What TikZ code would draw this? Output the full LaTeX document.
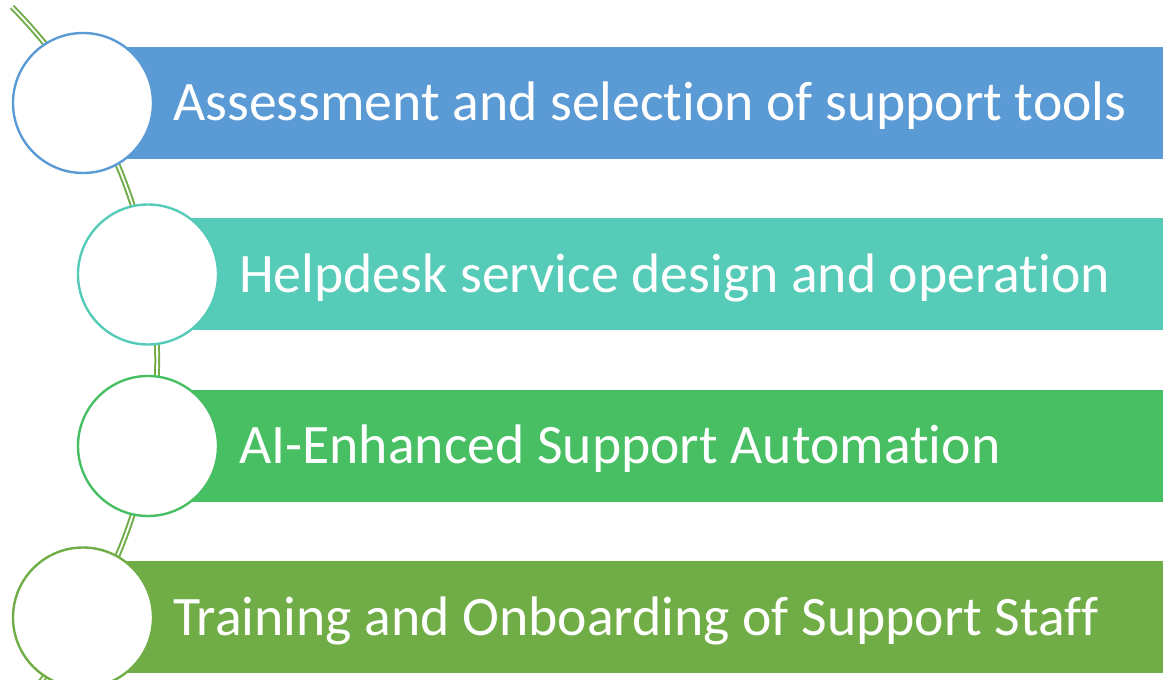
\documentclass[tikz,border=0pt]{standalone}
\usepackage{fontspec}
\setmainfont{Carlito}[Ligatures={NoCommon}]
\definecolor{cblue}{HTML}{5B9BD5}
\definecolor{cteal}{HTML}{55CBB8}
\definecolor{cgreen}{HTML}{48BF63}
\definecolor{colive}{HTML}{70AD47}
\tikzset{
  ring/.style={circle, draw=#1, line width=2.4pt, fill=white, minimum size=140pt, inner sep=0pt},
  label/.style={text=white, font=\fontsize{55.7}{62}\selectfont, anchor=base west, inner sep=0pt},
  spine/.style={draw=colive, line width=2pt, double=white, double distance=1.8pt}
}
\begin{document}
\begin{tikzpicture}[x=1pt,y=1pt]
\useasboundingbox (0,0) rectangle (1163,680);
% bars
\fill[cblue]  (83,521) rectangle (1163,633);
\fill[cteal]  (148,349.5) rectangle (1163,461.5);
\fill[cgreen] (148,178) rectangle (1163,290);
\fill[colive] (83,6.5) rectangle (1163,118.5);
% spine arc
\begin{scope}
\clip (0,0) rectangle (1163,680);
\coordinate (s0) at (12,673);
\draw[spine] (s0) arc[start angle=44.7, end angle=-47, radius=502];
\end{scope}
% circles
\node[ring=cblue]  (c1) at (83,577) {};
\node[ring=cteal]  (c2) at (148,405.5) {};
\node[ring=cgreen] (c3) at (148,234) {};
\node[ring=colive] (c4) at (83,62.5) {};
% labels
\node[label] (t1) at (173,559) {Assessment and selection of support tools};
\node[label] (t2) at (239,387.5) {Helpdesk service design and operation};
\node[label] (t3) at (239,216) {AI-Enhanced Support Automation};
\node[label] (t4) at (173,44.5) {Training and Onboarding of Support Staff};
\end{tikzpicture}
\end{document}
